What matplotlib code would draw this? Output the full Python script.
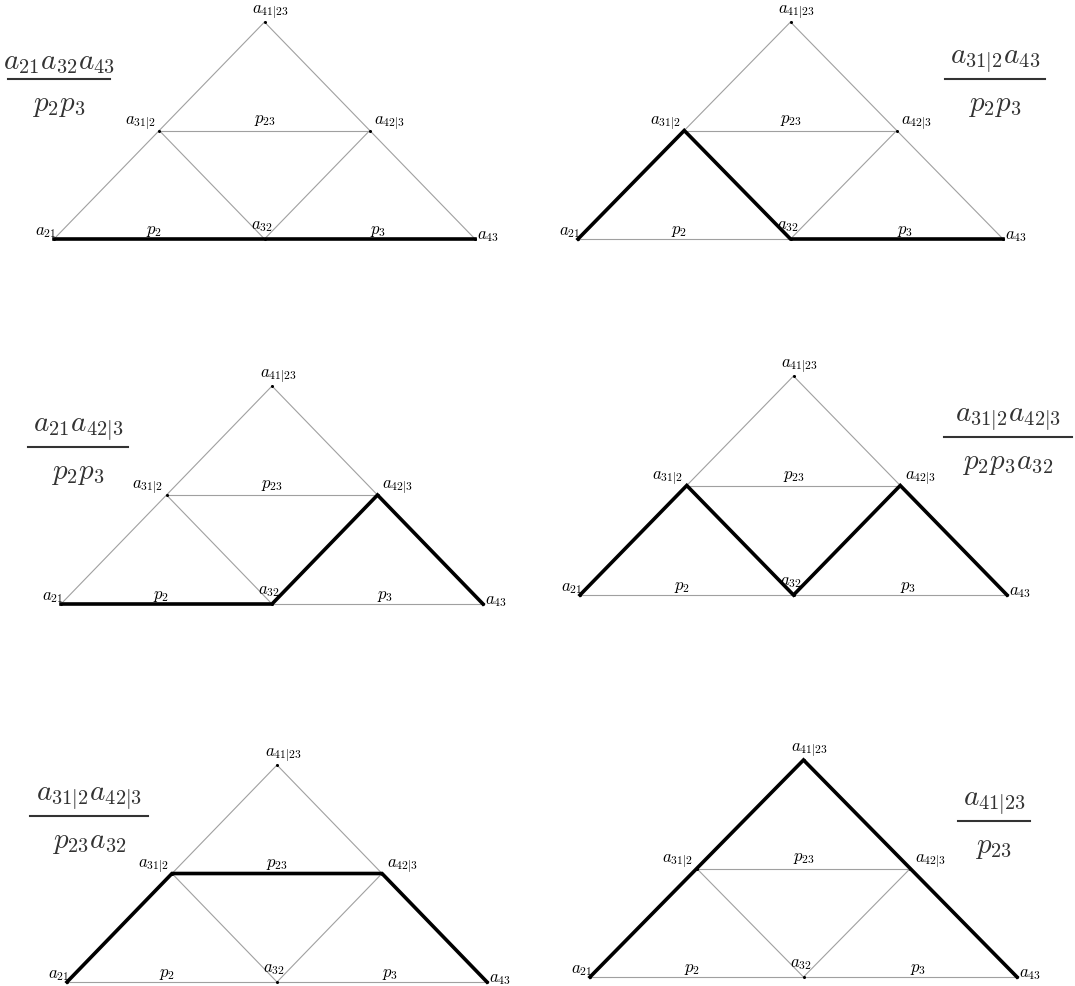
import matplotlib.pyplot as plt

plt.rcParams['mathtext.fontset'] = 'cm'

# lattice nodes: u along the base, v upwards
node_u = [0, 1, 2, 0.5, 1.5, 1]
node_v = [0, 0, 0, 1, 1, 2]
node_tex = [r'$a_{21}$', r'$a_{32}$', r'$a_{43}$',
            r'$a_{31|2}$', r'$a_{42|3}$', r'$a_{41|23}$']

# thin grid edges (node indices)
edges = [(0, 2), (0, 5), (5, 2), (3, 4), (3, 1), (1, 4)]

# edge labels: text and the edge they sit on
edge_tex = [r'$p_2$', r'$p_3$', r'$p_{23}$']
edge_on = [(0, 1), (1, 2), (3, 4)]

# highlighted path in each panel
paths = [[0, 1, 2],
         [0, 3, 1, 2],
         [0, 1, 4, 2],
         [0, 3, 1, 4, 2],
         [0, 3, 4, 2],
         [0, 5, 2]]

numerators = [r'$a_{21}a_{32}a_{43}$', r'$a_{31|2}a_{43}$', r'$a_{21}a_{42|3}$',
              r'$a_{31|2}a_{42|3}$', r'$a_{31|2}a_{42|3}$', r'$a_{41|23}$']
denominators = [r'$p_2p_3$', r'$p_2p_3$', r'$p_2p_3$',
                r'$p_2p_3a_{32}$', r'$p_{23}a_{32}$', r'$p_{23}$']

# layout, in pixels: base-left corner, half width, row height
panels = [(54, 240, 210.5, 108.5), (578, 240, 212.5, 108.5),
          (61, 605, 211, 109), (580, 596, 213.5, 109.5),
          (67, 983, 210, 108.5), (590, 978, 213.5, 108.5)]
# fraction: left, right, bar y
frac_box = [(8, 110, 80), (945, 1045, 80),
            (28, 128, 448), (944, 1072, 438),
            (30, 148, 817), (958, 1030, 822)]

label_off = [(-8, -9), (-3, -15), (13, -5), (-19, -8), (20, -8), (6, -10)]
edge_off = [(-5, -10), (8, -10), (0, -12)]

W, H = 1075, 987
fig = plt.figure(figsize=(W / 100, H / 100), dpi=100)
ax = fig.add_axes([0, 0, 1, 1])
ax.set_xlim(0, W)
ax.set_ylim(H, 0)
ax.axis('off')

for k, (x0, y0, w, h) in enumerate(panels):
    xs = [x0 + u * w for u in node_u]
    ys = [y0 - v * h for v in node_v]

    for i, j in edges:
        ax.plot([xs[i], xs[j]], [ys[i], ys[j]], color='#a0a0a0', lw=0.8, zorder=1)

    p = paths[k]
    ax.plot([xs[i] for i in p], [ys[i] for i in p], color='black', lw=2.6,
            solid_joinstyle='miter', zorder=2)
    ax.plot(xs, ys, 'o', color='black', ms=1.2, zorder=3)

    for t, (dx, dy), x, y in zip(node_tex, label_off, xs, ys):
        ax.text(x + dx, y + dy, t, fontsize=12, ha='center', va='center')

    for t, (i, j), (dx, dy) in zip(edge_tex, edge_on, edge_off):
        ax.text((xs[i] + xs[j]) / 2 + dx, (ys[i] + ys[j]) / 2 + dy, t,
                fontsize=12, ha='center', va='center')

    xl, xr, yb = frac_box[k]
    cx = (xl + xr) / 2
    ax.plot([xl, xr], [yb, yb], color='#333333', lw=1.5)
    ax.text(cx, yb - 4, numerators[k], fontsize=21, color='#333333',
            ha='center', va='bottom')
    ax.text(cx, yb + 11, denominators[k], fontsize=21, color='#333333',
            ha='center', va='top')

fig.savefig('out.png', dpi=100)
